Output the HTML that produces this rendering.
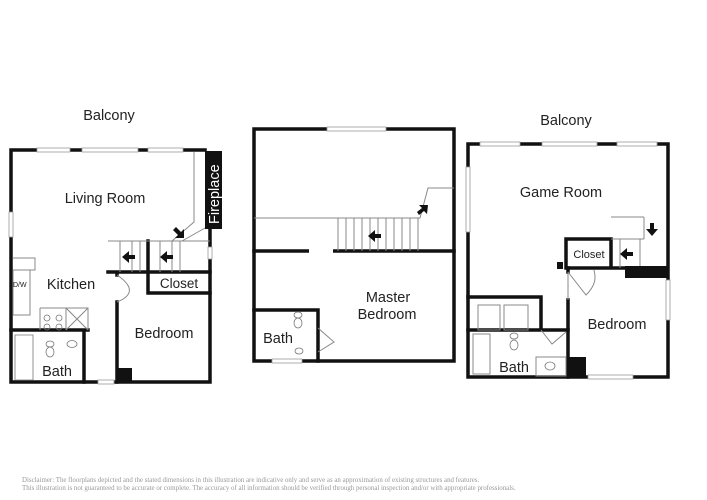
<!DOCTYPE html>
<html><head><style>
html,body{margin:0;padding:0;background:#fff;}
svg{display:block;}
text{font-family:"Liberation Sans",sans-serif;fill:#222;}
.d{font-family:"Liberation Serif",serif;font-size:6.9px;fill:#999;}
</style></head><body>
<svg width="707" height="500" viewBox="0 0 707 500">
<g stroke="#111" stroke-width="3.5" fill="none" stroke-linecap="square">
<!-- Plan 1 -->
<path d="M11 150 V382 H210 V228 M11 150 H205"/>
<path d="M108 272 H210 M148 241 V293 M148 293 H210 M117 302 V382 M117 272 V275"/>
<path d="M11 330 H88 M84 330 V382"/>
<!-- Plan 2 -->
<path d="M254 129 H454 V361 H254 V129"/>
<path d="M254 251 H309 M333 251 H454"/>
<path d="M254 310 H318 V361"/>
<!-- Plan 3 -->
<path d="M468 144 V377 H668 V144 Z"/>
<path d="M566 268 V239 H611 V268 M566 268 H625"/>
<path d="M568 268 V272 M568 300 V377"/>
<path d="M468 297 H541 V330 M468 330 H568"/>
</g>
<!-- windows: white gaps with thin lines -->
<g fill="#fff" stroke="#999" stroke-width="0.8">
<rect x="37" y="148" width="33" height="4"/>
<rect x="82" y="148" width="56" height="4"/>
<rect x="148" y="148" width="35" height="4"/>
<rect x="9" y="212" width="4" height="25"/>
<rect x="208" y="247" width="4" height="12"/>
<rect x="327" y="127" width="59" height="4"/>
<rect x="480" y="142" width="40" height="4"/>
<rect x="542" y="142" width="55" height="4"/>
<rect x="617" y="142" width="40" height="4"/>
<rect x="466" y="167" width="4" height="65"/>
<rect x="666" y="280" width="4" height="40"/>
<rect x="588" y="375" width="45" height="4"/>
<rect x="272" y="359" width="30" height="4"/>
<rect x="98" y="380" width="16" height="4"/>
<rect x="309" y="249" width="24" height="4" stroke="none"/>
</g>
<!-- thin lines -->
<g stroke="#888" stroke-width="1" fill="none">
<path d="M194 152 V222 L172 241 M205 228 L182 241"/>
<path d="M108 241 H210 M120 241 V272 M132 241 V272 M140 241 V272 M160 241 V272 M172 241 V272 M180 241 V272"/>
<path d="M13 258 H35 V270 H13 M13 270 V315 H30 V270 M40 308 H88 V330 M40 308 V330 M66 308 V330 M66 308 L88 330 M88 308 L66 330"/>
<path d="M117 275 C132 285 135 295 117 302"/>
<path d="M254 218 H420 L428 188 H454 M338 218 V251 M346 218 V251 M354 218 V251 M362 218 V251 M370 218 V251 M378 218 V251 M386 218 V251 M394 218 V251 M402 218 V251 M410 218 V251 M418 218 V251"/>
<path d="M318 328 L334 342 L318 352"/>
<path d="M611 217 H644 M644 217 V239 M611 239 H644 M620 239 V268 M640 239 V268"/>
<path d="M568 272 V300 M568 272 L586 295 C596 285 596 278 594 270"/>
<path d="M478 305 H500 V330 H478 Z M504 305 H528 V330 H504 Z"/>
<path d="M473 334 H490 V374 H473 Z M541 330 L552 344 L566 332 M536 357 H566 V376 H536 Z"/>
</g>
<!-- black fills -->
<rect x="205" y="151" width="17" height="78" fill="#111"/>
<rect x="117" y="368" width="15" height="14" fill="#111"/>
<rect x="625" y="266" width="43" height="12" fill="#111"/>
<rect x="567" y="357" width="19" height="20" fill="#111"/>
<rect x="557" y="262" width="6" height="7" fill="#111"/>
<!-- arrows -->
<g fill="#111">
<path d="M122 257 l7 -6 v4 h6 v4 h-6 v4 z"/>
<path d="M160 257 l7 -6 v4 h6 v4 h-6 v4 z"/>
<path d="M368 236 l7 -6 v4 h6 v4 h-6 v4 z"/>
<path d="M620 254 l7 -6 v4 h6 v4 h-6 v4 z"/>
<path d="M652 236 l-6 -7 h4 v-6 h4 v6 h4 z"/>
<path d="M184 238 l-9 0 l3 -3 l-5 -5 l3 -3 l5 5 l3 -3 z"/>
<path d="M428 205 l-1 9 l-3 -3 l-5 4 l-2 -3 l5 -4 l-3 -3 z"/>
</g>
<!-- sinks/toilets -->
<g stroke="#777" fill="none" stroke-width="0.8">
<ellipse cx="50" cy="344" rx="4" ry="3"/><ellipse cx="50" cy="352" rx="4" ry="5"/>
<ellipse cx="72" cy="344" rx="5" ry="3.5"/>
<ellipse cx="298" cy="315" rx="4" ry="3"/><ellipse cx="298" cy="323" rx="4" ry="5"/>
<ellipse cx="299" cy="351" rx="4" ry="3"/>
<ellipse cx="514" cy="336" rx="4" ry="3"/><ellipse cx="514" cy="345" rx="4" ry="5"/>
<ellipse cx="550" cy="366" rx="5" ry="4"/>
<circle cx="47" cy="318" r="3"/><circle cx="59" cy="318" r="3"/><circle cx="47" cy="327" r="3"/><circle cx="59" cy="327" r="3"/>
<path d="M15 335 H33 V380 H15 Z"/>
</g>
<!-- labels -->
<g font-size="14.5" text-anchor="middle">
<text x="109" y="120">Balcony</text>
<text x="566" y="125">Balcony</text>
<text x="105" y="203">Living Room</text>
<text x="71" y="289">Kitchen</text>
<text x="164" y="338">Bedroom</text>
<text x="57" y="376">Bath</text>
<text x="388" y="302">Master</text>
<text x="387" y="319">Bedroom</text>
<text x="278" y="343">Bath</text>
<text x="561" y="197">Game Room</text>
<text x="617" y="329">Bedroom</text>
<text x="514" y="372">Bath</text>
</g>
<text x="179" y="288" font-size="13.5" text-anchor="middle">Closet</text>
<text x="589" y="258" font-size="11" text-anchor="middle">Closet</text>
<text x="13" y="287" font-size="7">D/W</text>
<text transform="translate(219,224) rotate(-90)" font-size="14.5" style="fill:#fff">Fireplace</text>
<text class="d" x="22" y="482">Disclaimer: The floorplans depicted and the stated dimensions in this illustration are indicative only and serve as an approximation of existing structures and features.</text>
<text class="d" x="22" y="490">This illustration is not guaranteed to be accurate or complete. The accuracy of all information should be verified through personal inspection and/or with appropriate professionals.</text>
</svg>
</body></html>
